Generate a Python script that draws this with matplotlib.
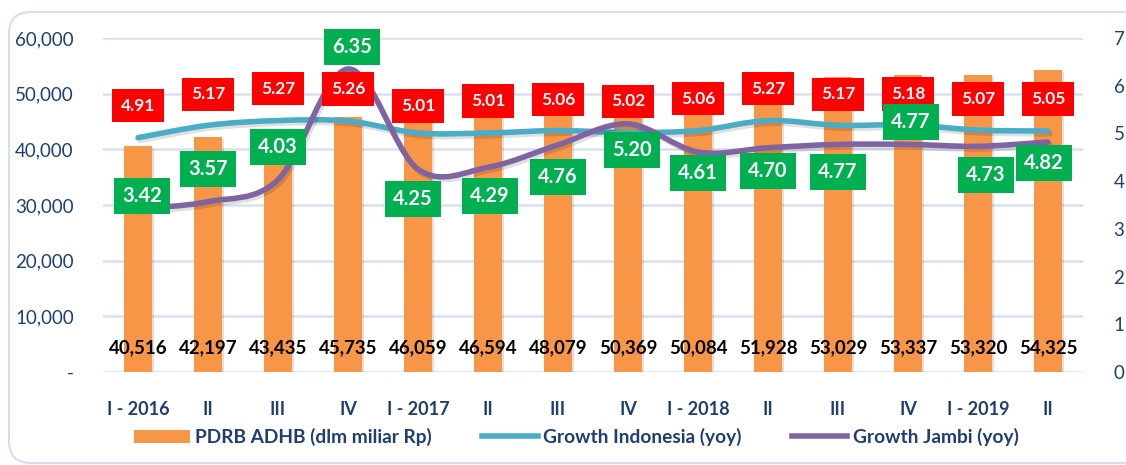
import numpy as np
import matplotlib.pyplot as plt
import matplotlib.patheffects as pe
from matplotlib.path import Path
from matplotlib.patches import PathPatch, FancyBboxPatch, Patch
from matplotlib.lines import Line2D
from matplotlib.transforms import IdentityTransform
from matplotlib.ticker import FuncFormatter

plt.rcParams['font.family'] = ['Lato', 'DejaVu Sans']

# data
quarters = ["I - 2016", "II", "III", "IV", "I - 2017", "II", "III", "IV",
            "I - 2018", "II", "III", "IV", "I - 2019", "II"]
pdrb = [40516, 42197, 43435, 45735, 46059, 46594, 48079, 50369,
        50084, 51928, 53029, 53337, 53320, 54325]
growth_indonesia = [4.91, 5.17, 5.27, 5.26, 5.01, 5.01, 5.06, 5.02,
                    5.06, 5.27, 5.17, 5.18, 5.07, 5.05]
growth_jambi = [3.42, 3.57, 4.03, 6.35, 4.25, 4.29, 4.76, 5.20,
                4.61, 4.70, 4.77, 4.77, 4.73, 4.82]

# label placement (pixel offsets from the point)
indo_dy = [32, 31, 32, 32, 27, 32, 31, 31, 32, 32, 31, 31, 31, 32]
jambi_dy = [13, 33, 33, 22, -30, -29, -32, -26, -21, -23, -28, 22, -29, -21]
jambi_dx = [4, 0, 0, 4, -5, 2, 0, 4, 0, 0, 0, 3, 8, -4]

ORANGE = '#F79646'
CYAN = '#4BACC6'
PURPLE = '#8064A2'
NAVY = '#1F3F72'
GRID = '#D6E1F0'


def smooth_path(x, y):
    """ Excel-like smoothed line as cubic bezier segments """
    x = np.asarray(x, float)
    y = np.asarray(y, float)
    px = np.concatenate([[x[0]], x, [x[-1]]])
    py = np.concatenate([[y[0]], y, [y[-1]]])
    verts = [(x[0], y[0])]
    codes = [Path.MOVETO]
    for i in range(len(x) - 1):
        c1 = (px[i + 1] + (px[i + 2] - px[i]) / 6, py[i + 1] + (py[i + 2] - py[i]) / 6)
        c2 = (px[i + 2] - (px[i + 3] - px[i + 1]) / 6, py[i + 2] - (py[i + 3] - py[i + 1]) / 6)
        verts += [c1, c2, (x[i + 1], y[i + 1])]
        codes += [Path.CURVE4] * 3
    return Path(verts, codes)


fig = plt.figure(figsize=(11.26, 4.65), dpi=100)

# rounded outer frame
frame = FancyBboxPatch((9, 2), 1140, 451, boxstyle='round,pad=0,rounding_size=22',
                       transform=IdentityTransform(), facecolor='none',
                       edgecolor='#D3DEEE', linewidth=1.5)
fig.add_artist(frame)

ax = fig.add_axes([103 / 1126, 93 / 465, 980 / 1126, 334 / 465])
x = np.arange(len(quarters))

bars = ax.bar(x, pdrb, width=0.4, color=ORANGE, zorder=2)
for b in bars:
    b.set_path_effects([pe.SimplePatchShadow(offset=(1.5, -1.5), alpha=0.15), pe.Normal()])

for i, v in enumerate(pdrb):
    ax.text(i, 4300, f"{v:,}", ha='center', va='center', fontsize=13.5,
            fontweight='bold', color='black', zorder=3)

ax.set_xlim(-0.5, len(quarters) - 0.5)
ax.set_ylim(0, 60000)
ax.set_yticks(np.arange(0, 60001, 10000))
ax.yaxis.set_major_formatter(FuncFormatter(lambda v, p: "-" if v == 0 else f"{int(v):,}"))
ax.grid(axis='y', color=GRID, linewidth=1.8, zorder=0)
ax.set_axisbelow(True)
ax.set_xticks(x)
ax.set_xticklabels(quarters, fontweight='bold', fontsize=13, color=NAVY)
ax.tick_params(axis='x', length=0, pad=21)
ax.tick_params(axis='y', length=0, pad=21, labelsize=13.5, labelcolor=NAVY)
for s in ax.spines.values():
    s.set_visible(False)

ax2 = ax.twinx()
ax2.set_ylim(0, 7)
ax2.set_yticks(range(8))
ax2.tick_params(axis='y', length=0, pad=22, labelsize=13.5, labelcolor=NAVY)
for s in ax2.spines.values():
    s.set_visible(False)

shadow = [pe.SimpleLineShadow(offset=(1.5, -2), alpha=0.12), pe.Normal()]
ax2.add_patch(PathPatch(smooth_path(x, growth_indonesia), facecolor='none',
                        edgecolor=CYAN, linewidth=4, capstyle='round',
                        path_effects=shadow, zorder=3))
ax2.add_patch(PathPatch(smooth_path(x, growth_jambi), facecolor='none',
                        edgecolor=PURPLE, linewidth=4, capstyle='round',
                        path_effects=shadow, zorder=3))

for i, v in enumerate(growth_indonesia):
    ax2.annotate(f"{v:.2f}", xy=(i, v), xytext=(0, indo_dy[i]), textcoords='offset pixels',
                 ha='center', va='center', fontsize=12.5, fontweight='bold', color='white',
                 bbox=dict(boxstyle='square,pad=0.5', facecolor='#FF0000', edgecolor='none'),
                 zorder=5)

for i, v in enumerate(growth_jambi):
    ax2.annotate(f"{v:.2f}", xy=(i, v), xytext=(jambi_dx[i], jambi_dy[i]),
                 textcoords='offset pixels', ha='center', va='center', fontsize=14.5,
                 fontweight='bold', color='white',
                 bbox=dict(boxstyle='square,pad=0.4', facecolor='#00B050', edgecolor='none'),
                 zorder=6)

handles = [Patch(facecolor=ORANGE, edgecolor='none'),
           Line2D([], [], color=CYAN, linewidth=4),
           Line2D([], [], color=PURPLE, linewidth=4)]
labels = ["PDRB ADHB (dlm miliar Rp)", "Growth Indonesia (yoy)", "Growth Jambi (yoy)"]
leg = fig.legend(handles, labels, loc='center', bbox_to_anchor=(0.512, 28 / 465), ncol=3,
                 frameon=False, handlelength=2.9, handletextpad=0.3, columnspacing=2.6,
                 prop={'weight': 'bold', 'size': 13.8})
for t in leg.get_texts():
    t.set_color(NAVY)

fig.savefig("out.png", dpi=100)
